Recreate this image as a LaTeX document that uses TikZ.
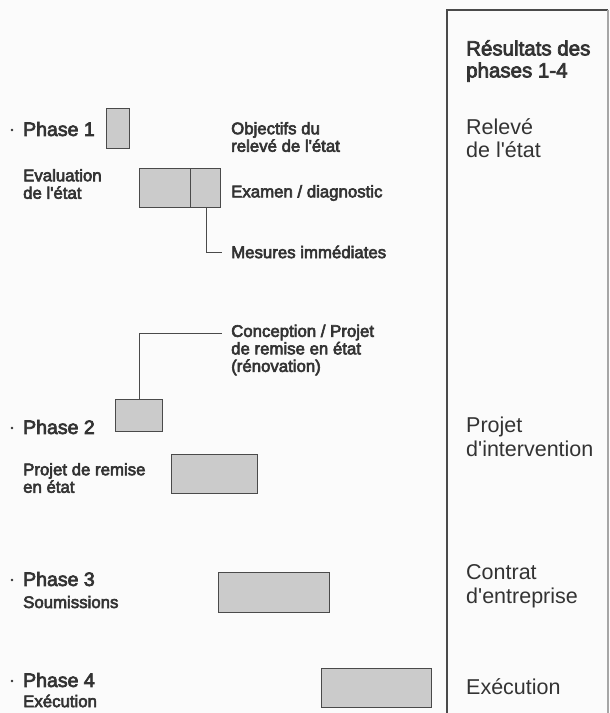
\documentclass[tikz,border=0pt]{standalone}
\usepackage{fontspec}
\setmainfont{Liberation Sans}
\newfontfamily\medfont[FakeBold=3.5]{Liberation Sans}
\definecolor{txt}{HTML}{333333}
\definecolor{boxfill}{HTML}{CBCBCB}
\definecolor{boxline}{HTML}{4A4A4A}
\definecolor{bg}{HTML}{FBFBFB}
\newcommand{\apo}{\textquotesingle}
\begin{document}
\begin{tikzpicture}[x=1pt,y=-1pt,
  phase/.style={anchor=west,inner sep=0,text=txt,font=\medfont\fontsize{19.5}{22}\selectfont},
  desc/.style={anchor=west,inner sep=0,text=txt,align=left,font=\medfont\fontsize{16.8}{17.5}\selectfont},
  res/.style={anchor=west,inner sep=0,text=txt,align=left,font=\fontsize{21.5}{23.5}\selectfont},
  head/.style={anchor=west,inner sep=0,text=txt,align=left,font=\medfont\fontsize{20.5}{22}\selectfont},
  gbox/.style={draw=boxline,fill=boxfill,line width=1.1pt,inner sep=0,anchor=north west},
  conn/.style={draw=boxline,line width=0.9pt},
  bullet/.style={circle,fill=txt,inner sep=0,minimum size=2.8pt},
  frame/.style={draw=boxline,line width=1.3pt}]
\fill[bg] (0,0) rectangle (610,713);
\useasboundingbox (0,0) rectangle (610,713);

% right panel
\draw[frame] (447,713) -- (447,10) -- (608,10);
\draw[frame,draw=gray!70] (608,10) -- (608,713);

% boxes
\node[gbox,minimum width=23pt,minimum height=40pt] (p1) at (106,108) {};
\node[gbox,minimum width=51pt,minimum height=39pt] (e1) at (139,168) {};
\node[gbox,minimum width=30pt,minimum height=39pt] (e2) at (190,168) {};
\node[gbox,minimum width=47pt,minimum height=32pt] (p2a) at (115,399) {};
\node[gbox,minimum width=86pt,minimum height=39pt] (p2b) at (171,454) {};
\node[gbox,minimum width=111pt,minimum height=40pt] (p3) at (218,572) {};
\node[gbox,minimum width=110pt,minimum height=39pt] (p4) at (321,668) {};

% left labels
\node[bullet] (b1) at (12,130) {};
\node[phase] (ph1) at (23,129) {Phase 1};
\node[desc] (eval) at (23,184) {Evaluation\\de l\apo état};
\node[bullet] (b2) at (12,428) {};
\node[phase] (ph2) at (23,427) {Phase 2};
\node[desc] (prj) at (23,478) {Projet de remise\\en état};
\node[bullet] (b3) at (12,580) {};
\node[phase] (ph3) at (23,579) {Phase 3};
\node[desc] (sou) at (23,602) {Soumissions};
\node[bullet] (b4) at (12,681) {};
\node[phase] (ph4) at (23,680) {Phase 4};
\node[desc] (exe) at (23,701) {Exécution};

% middle labels
\node[desc] (obj) at (231,137) {Objectifs du\\relevé de l\apo état};
\node[desc] (exa) at (231,193) {Examen / diagnostic};
\node[desc] (mes) at (231,252) {Mesures immédiates};
\node[desc] (conc) at (231,350) {Conception / Projet\\de remise en état\\(rénovation)};
\coordinate (cend) at (222,333);

% connectors
\draw[conn] ([xshift=1pt]e2.south) |- ([xshift=-9pt]mes.west);
\draw[conn] (p2a.north) |- (cend);

% right labels
\node[head] (head) at (466,61) {Résultats des\\phases 1-4};
\node[res] (rel) at (466,138) {Relevé\\de l\apo état};
\node[res] (pint) at (466,437) {Projet\\d\apo intervention};
\node[res] (con) at (466,586) {Contrat\\d\apo entreprise};
\node[res] (exr) at (466,687) {Exécution};
\end{tikzpicture}
\end{document}
